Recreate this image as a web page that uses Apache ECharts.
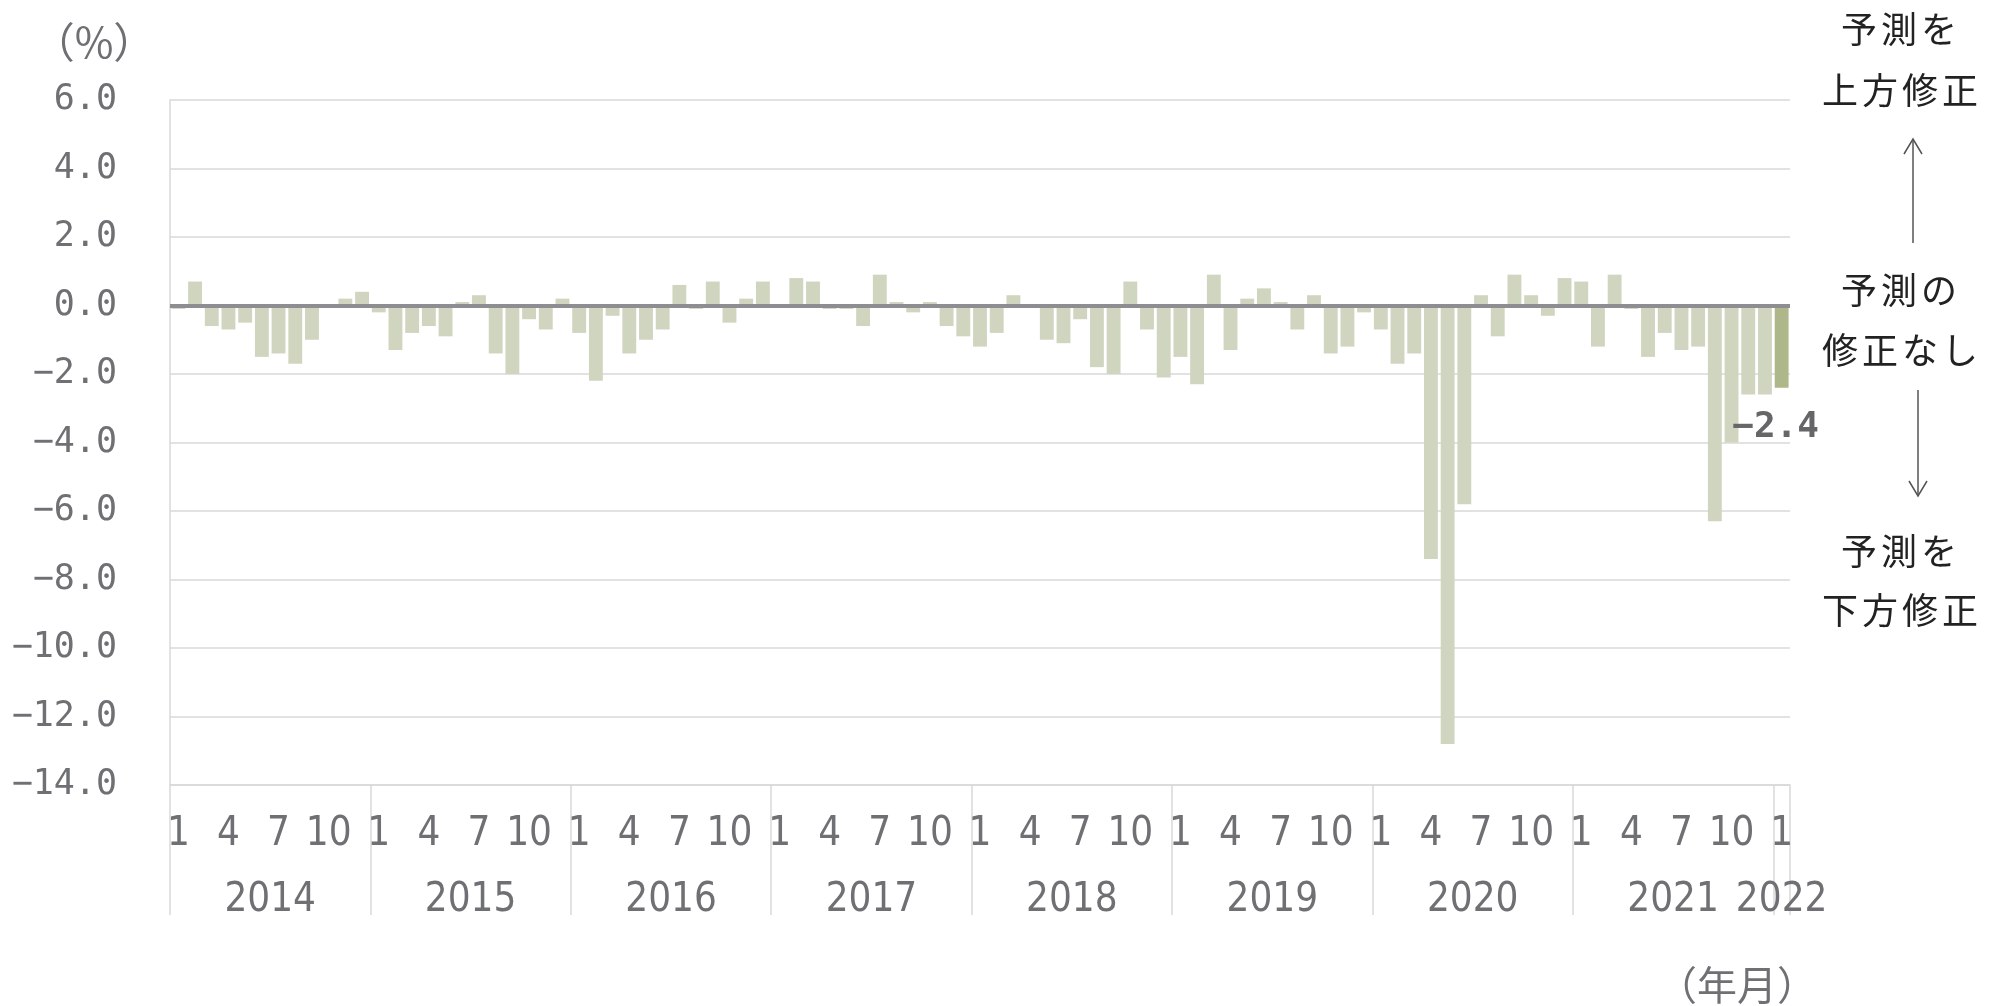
<!DOCTYPE html>
<html><head><meta charset="utf-8">
<script src="https://cdn.jsdelivr.net/npm/echarts@6/dist/echarts.min.js"></script>
<style>html,body{margin:0;padding:0;background:#fff}#c{width:2004px;height:1006px}</style>
</head><body><div id="c"></div>
<script>
// ---- data ----
const years = ['2014','2015','2016','2017','2018','2019','2020','2021','2022'];
const v2014 = [-0.1, 0.7, -0.6, -0.7, -0.5, -1.5, -1.4, -1.7, -1.0, 0.0, 0.2, 0.4];
const v2015 = [-0.2, -1.3, -0.8, -0.6, -0.9, 0.1, 0.3, -1.4, -2.0, -0.4, -0.7, 0.2];
const v2016 = [-0.8, -2.2, -0.3, -1.4, -1.0, -0.7, 0.6, -0.1, 0.7, -0.5, 0.2, 0.7];
const v2017 = [0.0, 0.8, 0.7, -0.1, -0.1, -0.6, 0.9, 0.1, -0.2, 0.1, -0.6, -0.9];
const v2018 = [-1.2, -0.8, 0.3, 0.0, -1.0, -1.1, -0.4, -1.8, -2.0, 0.7, -0.7, -2.1];
const v2019 = [-1.5, -2.3, 0.9, -1.3, 0.2, 0.5, 0.1, -0.7, 0.3, -1.4, -1.2, -0.2];
const v2020 = [-0.7, -1.7, -1.4, -7.4, -12.8, -5.8, 0.3, -0.9, 0.9, 0.3, -0.3, 0.8];
const v2021 = [0.7, -1.2, 0.9, -0.1, -1.5, -0.8, -1.3, -1.2, -6.3, -4.0, -2.6, -2.6];
const v2022 = [-2.4];
const yearValues = [v2014, v2015, v2016, v2017, v2018, v2019, v2020, v2021, v2022];
const shownMonths = [1, 4, 7, 10];
const yMin = -14, yMax = 6, yStep = 2;

// ---- build categories ----
const cats = [], monthOf = [], yearOf = [], values = [];
yearValues.forEach((arr, yi) => {
  arr.forEach((v, mi) => {
    cats.push(years[yi] + '-' + (mi + 1));
    monthOf.push(mi + 1); yearOf.push(years[yi]); values.push(v);
  });
});
const lastIdx = values.length - 1;
const fmtNum = v => (v < 0 ? '\u2212' : '') + Math.abs(v).toFixed(1);

const barData = values.map((v, i) => i === lastIdx ? {
  value: v,
  itemStyle: { color: '#adb78a' },
  label: {
    show: true, position: 'bottom', distance: 22, offset: [-6, 0],
    formatter: p => fmtNum(p.value),
    fontFamily: 'DejaVu Sans Mono', fontWeight: 'bold', fontSize: 36, color: '#666669'
  }
} : v);

const gray = '#6f7073';
const lineGray = '#d9d9d9';
const font = "'Liberation Sans Narrow', 'DejaVu Sans Condensed', Roboto, sans-serif";

// annotation helper (text only)
function spacedText(str, cx, cy, adv, size) {
  const n = str.length;
  return str.split('').map((ch, k) => ({
    type: 'text',
    x: cx + (k - (n - 1) / 2) * adv, y: cy,
    style: { text: ch, fontSize: size, fontFamily: 'Noto Sans CJK JP', fill: '#222222',
             textAlign: 'center', textVerticalAlign: 'middle' }
  }));
}
function arrow(x, y1, y2) { // from y1 to tip y2
  const d = y2 < y1 ? 1 : -1;
  return [
    { type: 'line', shape: { x1: x, y1: y1, x2: x, y2: y2 }, style: { stroke: '#555', lineWidth: 1.5 } },
    { type: 'polyline', shape: { points: [[x - 9, y2 + d * 15], [x, y2], [x + 9, y2 + d * 15]] },
      style: { stroke: '#555', lineWidth: 1.5, fill: null } }
  ];
}

const graphics = [].concat(
  spacedText('予測を', 1899, 29, 40, 36),
  spacedText('上方修正', 1900, 90, 40, 36),
  arrow(1913, 243, 139),
  spacedText('予測の', 1899, 290, 40, 36),
  spacedText('修正なし', 1900, 350, 40, 36),
  arrow(1918, 390, 496),
  spacedText('予測を', 1899, 551, 40, 36),
  spacedText('下方修正', 1900, 610, 40, 36),
  [
    { type: 'text', x: 94, y: 42, style: { text: '（%）', fontSize: 42, fontFamily: 'Noto Sans CJK JP', fill: gray, textAlign: 'center', textVerticalAlign: 'middle' } },
    { type: 'text', x: 1737, y: 985, style: { text: '（年月）', fontSize: 40, fontFamily: 'Noto Sans CJK JP', fill: gray, textAlign: 'center', textVerticalAlign: 'middle' } }
  ]
);

const chart = echarts.init(document.getElementById('c'), null, { renderer: 'canvas' });
chart.setOption({
  animation: false,
  backgroundColor: '#ffffff',
  grid: { left: 170, right: 214, top: 100, bottom: 221, containLabel: false },
  xAxis: [
    {
      type: 'category', data: cats, boundaryGap: true, position: 'bottom',
      axisLine: { show: true, onZero: false, lineStyle: { color: lineGray, width: 1.5 } },
      axisTick: { show: false },
      axisLabel: {
        interval: (i) => shownMonths.indexOf(monthOf[i]) >= 0,
        formatter: (val, i) => String(monthOf[i]),
        margin: 30, fontSize: 40, color: gray, fontFamily: font
      },
      splitLine: { show: false }
    },
    {
      type: 'category', data: cats, boundaryGap: true, position: 'bottom', offset: 0,
      axisLine: { show: false, onZero: false },
      axisTick: {
        show: true, length: 130, interval: (i) => monthOf[i] === 1,
        lineStyle: { color: lineGray, width: 1.5 }
      },
      axisLabel: {
        interval: (i) => (monthOf[i] === 6) || (i === lastIdx),
        formatter: (val, i) => (i === lastIdx ? '{z|' : '{y|') + yearOf[i] + '}',
        margin: 96, color: gray, fontFamily: font, fontSize: 40,
        rich: {
          y: { padding: [0, 0, 0, 16.7], fontSize: 40, fontFamily: font, color: gray },
          z: { fontSize: 40, fontFamily: font, color: gray }
        }
      },
      splitLine: { show: false }
    }
  ],
  yAxis: {
    type: 'value', min: yMin, max: yMax, interval: yStep,
    axisLine: { show: true, lineStyle: { color: lineGray, width: 1.5 } },
    axisTick: { show: false },
    splitLine: { show: true, lineStyle: { color: lineGray, width: 1.5 } },
    axisLabel: { formatter: fmtNum, margin: 53, fontSize: 35, color: gray, fontFamily: 'DejaVu Sans Mono' }
  },
  series: [{
    type: 'bar', xAxisIndex: 0, data: barData, barCategoryGap: '17%',
    itemStyle: { color: '#cfd5bf' },
    markLine: {
      silent: true, symbol: 'none', animation: false,
      label: { show: false },
      lineStyle: { color: '#8e8e92', width: 4, type: 'solid' },
      data: [{ yAxis: 0 }]
    }
  }],
  graphic: graphics
});
</script></body></html>
